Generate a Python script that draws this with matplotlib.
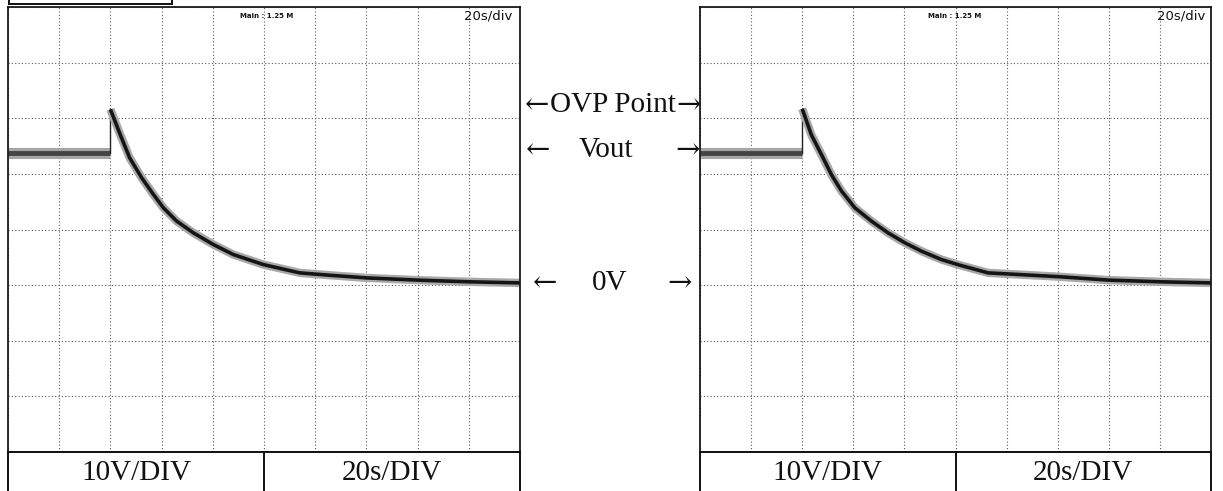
import numpy as np
import matplotlib
matplotlib.use("Agg")
import matplotlib.pyplot as plt

W, H = 1223, 491

# scope settings: 20 s/div, 10 V/div, 0 V five divisions below top
t_range = (0, 200)
v_range = (-30, 50)
t_step = 40
v_out = 23.8

# decay after OVP trip (time s, volts)
t_left = [40, 43.8, 47.5, 52.2, 56.8, 60.7, 65.9, 72.4, 80.2, 88.0, 99.7, 114, 125, 140, 160, 180, 200]
v_left = [31.6, 27.1, 22.9, 19.3, 16.3, 13.9, 11.5, 9.4, 7.3, 5.5, 3.7, 2.2, 1.8, 1.3, 0.9, 0.6, 0.4]
t_right = [40, 43.6, 47.6, 51.5, 55.4, 60.6, 67.1, 73.6, 80.2, 86.7, 94.5, 100.8, 112.8, 125, 141, 160, 180, 200]
v_right = [31.7, 27.0, 23.4, 19.8, 16.9, 13.9, 11.5, 9.4, 7.6, 6.1, 4.6, 3.7, 2.2, 1.9, 1.5, 0.9, 0.6, 0.4]

box_labels = ["10V/DIV", "20s/DIV"]
serif = ["Liberation Serif", "DejaVu Serif"]
narrow = ["Liberation Sans Narrow", "DejaVu Sans"]


def px(x0, y0, x1, y1):
    # pixel box (top-left origin) -> figure rect
    return [x0 / W, 1 - y1 / H, (x1 - x0) / W, (y1 - y0) / H]


def fx(x):
    return x / W


def fy(y):
    return 1 - y / H


fig = plt.figure(figsize=(W / 100, H / 100), dpi=100)


def draw_screen(rect, t, v):
    ax = fig.add_axes(rect)
    ax.set_xlim(*t_range)
    ax.set_ylim(*v_range)
    ax.set_xticks(np.arange(0, 201, 20))
    ax.set_yticks(np.arange(-30, 51, 10))
    ax.grid(True, color="#5a5a5a", linestyle=(0, (1, 2)), linewidth=0.8)
    ax.tick_params(length=0, labelbottom=False, labelleft=False)
    for s in ax.spines.values():
        s.set_color("#1a1a1a")
        s.set_linewidth(1.3)

    # Vout before trip
    ax.plot([0, t_step], [v_out, v_out], color="#a5a5a5", lw=8, solid_capstyle="butt")
    ax.plot([0, t_step], [v_out, v_out], color="#444444", lw=3.5, solid_capstyle="butt")
    ax.plot([t_step, t_step], [v_out, v[0]], color="#222222", lw=1)

    # decay to 0 V
    ax.plot(t, v, color="#a8a8a8", lw=6, solid_capstyle="butt", solid_joinstyle="round")
    ax.plot(t, v, color="#151515", lw=2.6, solid_capstyle="butt", solid_joinstyle="round")
    return ax


def draw_box(x0, x1):
    bx = fig.add_axes(px(x0, 452, x1, 500))
    bx.set_xlim(0, 2)
    bx.set_ylim(0, 1)
    bx.set_xticks([])
    bx.set_yticks([])
    for s in bx.spines.values():
        s.set_color("#111111")
        s.set_linewidth(1.4)
    bx.axvline(1, color="#111111", lw=1.4)
    for i, lab in enumerate(box_labels):
        bx.text(i + 0.5, 1 - 21 / 48, lab, ha="center", va="center",
                fontsize=21, family=serif, color="#111111")


draw_screen(px(8, 7, 520, 452), t_left, v_left)
draw_screen(px(700, 7, 1211, 452), t_right, v_right)
draw_box(8, 520)
draw_box(700, 1211)

# top-left corner stub box
tb = fig.add_axes(px(9, -20, 172, 4))
tb.set_xticks([])
tb.set_yticks([])
for s in tb.spines.values():
    s.set_color("#111111")
    s.set_linewidth(1.4)

# small scope readouts
for xm, xd in [(267, 488), (955, 1181)]:
    fig.text(fx(xm), fy(16), "Main : 1.25 M", ha="center", va="center",
             fontsize=5, family=narrow, weight="bold", color="#111111")
    fig.text(fx(xd), fy(16), "20s/div", ha="center", va="center",
             fontsize=9.5, family=narrow, color="#111111")

# labels between the screens
fs = 21
arrow = ["DejaVu Serif"]
rows = [
    (105, 537, "OVP Point", 613, 689),
    (150, 538, "Vout", 606, 688),
    (283, 545, "0V", 610, 680),
]
for y, xl, word, xw, xr in rows:
    fig.text(fx(xl), fy(y), "\u2190", ha="center", va="center", fontsize=fs,
             family=arrow, weight="light", color="#111111")
    fig.text(fx(xw), fy(y), word, ha="center", va="center", fontsize=fs,
             family=serif, color="#111111")
    fig.text(fx(xr), fy(y), "\u2192", ha="center", va="center", fontsize=fs,
             family=arrow, weight="light", color="#111111")

fig.savefig("out.png", dpi=100)
